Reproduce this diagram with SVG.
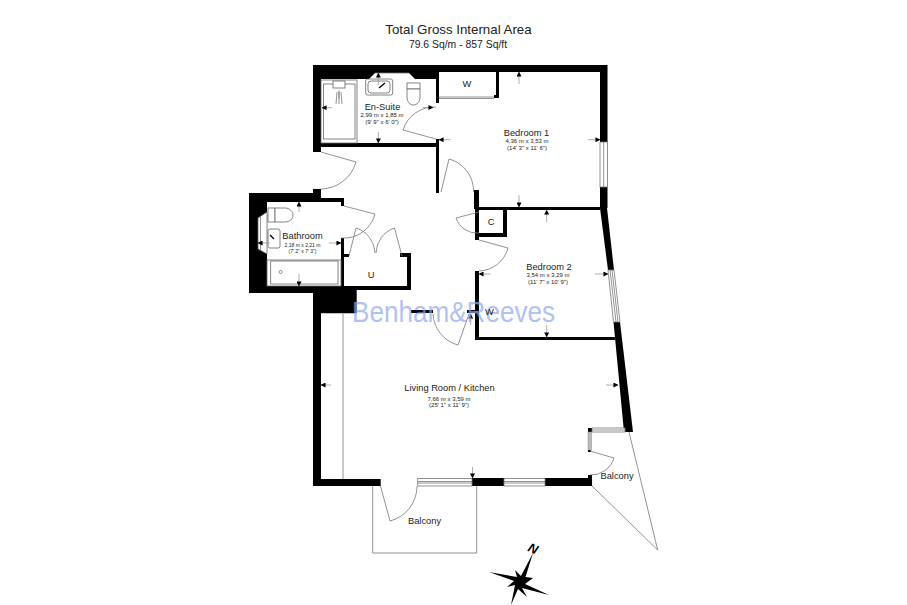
<svg xmlns="http://www.w3.org/2000/svg" width="907" height="605" viewBox="0 0 907 605">
<style>
text{font-family:"Liberation Sans",Arial,sans-serif;fill:#222;text-anchor:middle}
.t{font-size:13.300px}.s{font-size:10.400px}.r{font-size:9.300px}.d{font-size:6px}.e{font-size:5px}.k{font-size:9.300px}
.w{fill:#000;stroke:none}
.l{fill:none;stroke:#777;stroke-width:.8}
.f{fill:#fff;stroke:#666;stroke-width:.8}
.a{fill:none;stroke:#999;stroke-width:.8;marker-end:url(#ah)}
.g{fill:#fff;stroke:#777;stroke-width:.8}
</style>
<defs><marker id="ah" viewBox="0 0 6 6" refX="5.500" refY="3" markerWidth="5" markerHeight="5" markerUnits="userSpaceOnUse" orient="auto"><path d="M0 0L6 3L0 6Z" fill="#000"/></marker></defs>
<rect width="907" height="605" fill="#fff"/>
<g id="balconies">
<path class="l" d="M372.700 486V553H476.700V486"/>
<path class="l" d="M592 486L657.700 550L629 432"/>
</g>
<g id="walls" class="w">
<path d="M313 65H607.500V142H600V72H499V98H494V95H496V72H439V98H436V79H321V143H436V139H439V193H436V147H321V152H313Z"/>
<path d="M474 190H479V207H600V187H607.500V208H600V210H507V237H479V240H475V233H503V210H479V233H475V209H474Z"/>
<path d="M600 208H607L614 270H608Z"/>
<path d="M613.500 322H620L633 432H624Z"/>
<path d="M475 271H479V337H615V340H475Z"/>
<path d="M313 189H321V198H344V206H341V202H267V286H341V238H344V254H349V257H344V286H407V257H400V253H411V310H433V313H411V290H356.700V313.300H321V479H380.700V486H313V293H249V193H313Z"/>
<path d="M467 310H475V313H467Z"/>
<path d="M472 478H504V486H472ZM545 478H592V486H545ZM588 475H592V478H588ZM588 428H592V432H588ZM588 450H591V452H588Z"/>
<path d="M436 95H439V103H436Z"/>
</g>
<g id="windows">
<rect class="g" x="600" y="142" width="7.500" height="45"/><path class="l" d="M603.700 142V187"/>
<path class="g" d="M608 270H614L620 322H613.500Z"/><path class="l" d="M610 270L616 322M612 270L618 322"/>
<rect class="g" x="417.700" y="478.500" width="54.300" height="7.500"/><path class="l" d="M417.700 481.500H472M417.700 483H472"/>
<rect class="g" x="504" y="478.500" width="41" height="7.500"/><path class="l" d="M504 481.500H545M504 483H545"/>
<rect class="g" x="592" y="428" width="33" height="4"/><path class="l" d="M592 430H625"/>
<rect x="588" y="432" width="3.500" height="18" fill="#bbb" stroke="#888" stroke-width=".5"/>
<path class="l" d="M343 313.300V479M439 97H494M439 98.500H494"/>
</g>
<g id="doors" class="l">
<path d="M436 139L403 130A33 33 0 0 1 436 107"/>
<path d="M321 152L356 162A37 37 0 0 1 321 189"/>
<path d="M441 192L449 159A33 33 0 0 1 473.500 192"/>
<path d="M344 206L375 214A32 32 0 0 1 341 238"/>
<path d="M349 256L356 228A27 27 0 0 1 375 253"/>
<path d="M402 256L394.500 228A27 27 0 0 0 376 253"/>
<path d="M479 212L456 218A22 22 0 0 0 479 233"/>
<path d="M479 240L508 248A31 31 0 0 1 479 271"/>
<path d="M469 314L458 345A34 34 0 0 1 433 314"/>
<path d="M380.500 486L390 521A36 36 0 0 0 417 486"/>
<path d="M590 451L614 458A24 24 0 0 1 590 475"/>
</g>
<g id="fixtures">
<rect class="f" x="321" y="80" width="36" height="63"/><rect class="f" x="323.500" y="84" width="31.500" height="55"/>
<rect class="f" x="333" y="81" width="12" height="7"/><path class="l" d="M339 90V99M337 92L336 104M341 92L342 104M339 92V104"/>
<path d="M369 79L375 73H409L415 79Z" fill="#fff"/>
<path class="l" d="M369 79L375 73H409L415 79"/>
<rect class="f" x="365.700" y="79" width="27" height="16" rx="2"/><rect class="f" x="368" y="81" width="22" height="12" rx="3"/>
<path d="M379 88L385 83" stroke="#000" stroke-width="1.300"/>
<rect class="f" x="407" y="83" width="13" height="6"/><path class="f" d="M407 89H420V97C420 102 417 105 413.500 105C410 105 407 102 407 97Z"/>
<path class="f" d="M267 212L258 218V249L267 254Z"/><path class="l" d="M260.500 217V250"/>
<rect class="f" x="268" y="208" width="7" height="14"/><path class="f" d="M275 208H285C290 208 293 212 293 215C293 219 290 222 285 222H275Z"/>
<rect class="f" x="268" y="229" width="12" height="19" rx="2"/><path d="M270 235L274 239" stroke="#000" stroke-width="1.200"/>
<rect class="f" x="267" y="260" width="74" height="26"/><rect class="f" x="270.700" y="261" width="67.300" height="23"/>
<circle class="l" cx="280.700" cy="272" r="1.500"/>
</g>
<g id="dimension-arrows">
<path class="a" d="M378.300 85V73"/><path class="a" d="M378.300 132V143"/><path class="a" d="M332 107.700H322"/><path class="a" d="M423 107.500H433"/><path class="a" d="M450.700 139.700H439"/>
<path class="a" d="M519 84V72"/><path class="a" d="M519 195V207"/><path class="a" d="M588 139.700H600"/>
<path class="a" d="M546.700 222V210"/><path class="a" d="M546.700 325V337"/><path class="a" d="M490.700 274H479"/><path class="a" d="M595 274H608"/>
<path class="a" d="M299 212V202"/><path class="a" d="M299 274V286"/><path class="a" d="M270 243H258"/><path class="a" d="M329 243H341"/>
<path class="a" d="M331 385H321"/><path class="a" d="M606 385H618"/><path class="a" d="M472.500 467V478"/><path class="a" d="M470.700 325V314"/>
</g>
<g id="compass">
<path fill="#000" d="M533 553L525.500 577L533 578L525 584L549 595L522 588L527 597L518 589L511 605L515 585L507 587L514 581L489 572L517 577L515 570L521 576Z"/>
<text x="533" y="553" transform="rotate(24 533 549)" style="font-size:13px;font-weight:bold;font-style:italic;fill:#000">N</text>
</g>
<text id="watermark" x="453.500" y="322" style="font-size:30px;fill:#8fa9ec;opacity:.7" textLength="203" lengthAdjust="spacingAndGlyphs">Benham&amp;Reeves</text>
<g id="labels">
<text class="t" x="458.500" y="34">Total Gross Internal Area</text>
<text class="s" x="458" y="48">79.6 Sq/m - 857 Sq/ft</text>
<text class="r" x="382.500" y="109.500">En-Suite</text><text class="d" x="382" y="117">2,99 m x 1,85 m</text><text class="d" x="382" y="124">(9' 9" x 6' 0")</text>
<text class="r" x="526.500" y="136">Bedroom 1</text><text class="d" x="527" y="143">4,36 m x 3,53 m</text><text class="d" x="527" y="150">(14' 3" x 11' 6")</text>
<text class="r" x="549" y="270">Bedroom 2</text><text class="d" x="548" y="277">3,54 m x 3,29 m</text><text class="d" x="548" y="284">(11' 7" x 10' 9")</text>
<text class="r" x="302.500" y="239">Bathroom</text><text class="e" x="302.500" y="247">2,18 m x 2,21 m</text><text class="e" x="302.500" y="252.500">(7' 2" x 7' 3")</text>
<text class="r" x="449.500" y="391">Living Room / Kitchen</text><text class="d" x="449" y="400.500">7,66 m x 3,59 m</text><text class="d" x="449" y="407">(25' 1" x 11' 9")</text>
<text class="k" x="424.500" y="524">Balcony</text><text class="k" x="617" y="479">Balcony</text>
<text class="k" x="467" y="87">W</text><text class="k" x="491" y="225">C</text><text class="k" x="371" y="278">U</text><text class="k" x="489.500" y="315">W</text>
</g>
</svg>
